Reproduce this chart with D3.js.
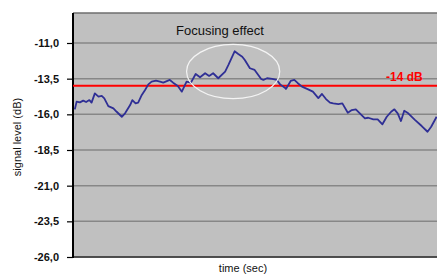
<!DOCTYPE html>
<html>
<head>
<meta charset="utf-8">
<script src="https://cdn.jsdelivr.net/npm/d3@7"></script>
<style>
  body { margin: 0; background: #ffffff; }
  svg { display: block; font-family: "Liberation Sans", Arial, sans-serif; }
</style>
</head>
<body>
<div id="canvas"></div>
<script>
"use strict"

let drawingWidth = 437;
let drawingHeight = 275;

/* Data: time (arbitrary units 0-100) and signal level in dB */
let timeValues = [0.5, 1.0, 1.9, 2.8, 3.6, 4.5, 5.1, 6.0, 7.0, 7.9, 8.6, 9.7, 11.1, 12.0, 13.4, 14.3,
    15.7, 16.3, 17.2, 17.9, 18.9, 19.8, 20.7, 21.6, 22.8, 23.9, 24.8, 26.6, 27.5, 28.8, 29.9,
    31.2, 32.4, 33.7, 34.9, 36.3, 37.4, 38.5, 39.9, 41.8, 42.7, 44.4, 45.4, 46.5, 47.2, 48.6,
    49.9, 51.7, 52.3, 53.3, 54.7, 56.0, 56.9, 58.2, 58.5, 59.8, 60.8, 61.7, 62.9, 64.6, 65.9,
    67.4, 68.4, 69.5, 70.6, 71.5, 72.9, 74.0, 75.5, 76.6, 77.7, 78.8, 80.2, 81.1, 82.5, 83.7,
    85.0, 86.2, 87.4, 88.3, 89.2, 90.1, 91.0, 92.1, 94.0, 95.8, 97.4, 98.4, 99.9];
let signalValues = [-15.65, -15.11, -15.16, -15.04, -15.14, -15.0, -15.18, -14.53, -14.76, -14.71, -14.88,
    -15.42, -15.58, -15.82, -16.17, -15.93, -15.35, -15.0, -15.23, -15.18, -14.64, -14.29, -13.9,
    -13.71, -13.64, -13.71, -13.78, -13.59, -13.78, -14.01, -14.41, -13.71, -13.78, -13.17, -13.4,
    -13.12, -13.31, -13.12, -13.47, -13.01, -12.54, -11.58, -11.77, -11.96, -12.19, -12.77, -12.89,
    -13.52, -13.59, -13.47, -13.52, -13.59, -13.9, -14.13, -14.22, -13.66, -13.59, -13.8, -14.06,
    -14.25, -14.41, -14.86, -14.57, -14.93, -15.18, -15.23, -15.28, -15.23, -15.89, -15.7, -15.65,
    -15.93, -16.28, -16.24, -16.35, -16.35, -16.7, -16.17, -15.82, -15.65, -15.93, -16.47, -15.75,
    -15.93, -16.4, -16.82, -17.22, -16.87, -16.17];
let yTicks = [-11.0, -13.5, -16.0, -18.5, -21.0, -23.5, -26.0];
let thresholdValue = -14;
let thresholdLabel = "-14 dB";
let annotationLabel = "Focusing effect";
/* the circled region: time span and dB span */
let focusTime = [31.2, 56.8];
let focusSignal = [-14.9, -11.1];

let plotLeft = 73;
let plotRight = 437;
let plotTop = 13;
let plotBottom = 257;

let drawing = d3.select("#canvas")
    .append("svg")
    .attr("width", drawingWidth)
    .attr("height", drawingHeight);

let xScale = d3.scaleLinear().domain([0, 100]).range([plotLeft, plotRight]);
let yScale = d3.scaleLinear().domain([-26, -11]).range([plotBottom, 43]);

/* grey plot area */
drawing.append("rect")
    .attr("x", plotLeft)
    .attr("y", plotTop)
    .attr("width", plotRight - plotLeft)
    .attr("height", plotBottom - plotTop)
    .attr("fill", "#c0c0c0");

/* horizontal gridlines */
drawing.append("g")
    .selectAll("line")
    .data(yTicks)
    .join("line")
    .attr("x1", plotLeft)
    .attr("x2", plotRight)
    .attr("y1", d => yScale(d))
    .attr("y2", d => yScale(d))
    .attr("stroke", "#878787")
    .attr("stroke-width", 1.5);

/* top border */
drawing.append("line")
    .attr("x1", plotLeft)
    .attr("x2", plotRight)
    .attr("y1", plotTop)
    .attr("y2", plotTop)
    .attr("stroke", "#6e6e6e")
    .attr("stroke-width", 1.5);

/* bottom border */
drawing.append("line")
    .attr("x1", plotLeft)
    .attr("x2", plotRight)
    .attr("y1", plotBottom)
    .attr("y2", plotBottom)
    .attr("stroke", "#333333")
    .attr("stroke-width", 1.5);

/* y axis */
let yAxis = drawing.append("g")
    .attr("transform", `translate(${plotLeft},0)`)
    .call(d3.axisLeft(yScale)
        .tickValues(yTicks)
        .tickSize(6)
        .tickPadding(8)
        .tickFormat(d => d3.format(".1f")(d).replace(".", ",").replace("−", "-")));
yAxis.select(".domain").remove();
yAxis.selectAll(".tick line").attr("stroke", "#000").attr("stroke-width", 1.2);
yAxis.selectAll(".tick text")
    .attr("font-size", 11)
    .attr("font-weight", "bold")
    .attr("fill", "#111")
    .attr("font-family", "'Liberation Sans', Arial, sans-serif");

drawing.append("line")
    .attr("x1", plotLeft)
    .attr("x2", plotLeft)
    .attr("y1", plotTop)
    .attr("y2", plotBottom + 1)
    .attr("stroke", "#000")
    .attr("stroke-width", 2);

/* threshold line */
drawing.append("line")
    .attr("x1", plotLeft)
    .attr("x2", plotRight)
    .attr("y1", yScale(thresholdValue))
    .attr("y2", yScale(thresholdValue))
    .attr("stroke", "#ff0000")
    .attr("stroke-width", 2);

drawing.append("text")
    .attr("x", 386)
    .attr("y", yScale(thresholdValue) - 5)
    .attr("font-size", 12)
    .attr("font-weight", "bold")
    .attr("fill", "#ff0000")
    .text(thresholdLabel);

/* signal line */
let signalLine = d3.line()
    .x((d, i) => xScale(timeValues[i]))
    .y(d => yScale(d));

drawing.append("path")
    .attr("d", signalLine(signalValues))
    .attr("fill", "none")
    .attr("stroke", "#2f2f95")
    .attr("stroke-width", 1.8)
    .attr("stroke-linejoin", "round");

/* ellipse around the focusing peak */
drawing.append("ellipse")
    .attr("cx", (xScale(focusTime[0]) + xScale(focusTime[1])) / 2)
    .attr("cy", (yScale(focusSignal[0]) + yScale(focusSignal[1])) / 2)
    .attr("rx", (xScale(focusTime[1]) - xScale(focusTime[0])) / 2)
    .attr("ry", (yScale(focusSignal[0]) - yScale(focusSignal[1])) / 2)
    .attr("fill", "none")
    .attr("stroke", "#f4f4f4")
    .attr("stroke-width", 1.2);

drawing.append("text")
    .attr("x", 176)
    .attr("y", 35)
    .attr("font-size", 13)
    .attr("fill", "#111")
    .text(annotationLabel);

/* axis titles */
drawing.append("text")
    .attr("transform", "translate(21,137) rotate(-90)")
    .attr("text-anchor", "middle")
    .attr("font-size", 11)
    .attr("fill", "#111")
    .text("signal level (dB)");

drawing.append("text")
    .attr("x", 243)
    .attr("y", 272)
    .attr("text-anchor", "middle")
    .attr("font-size", 11)
    .attr("fill", "#111")
    .text("time (sec)");
</script>
</body>
</html>
